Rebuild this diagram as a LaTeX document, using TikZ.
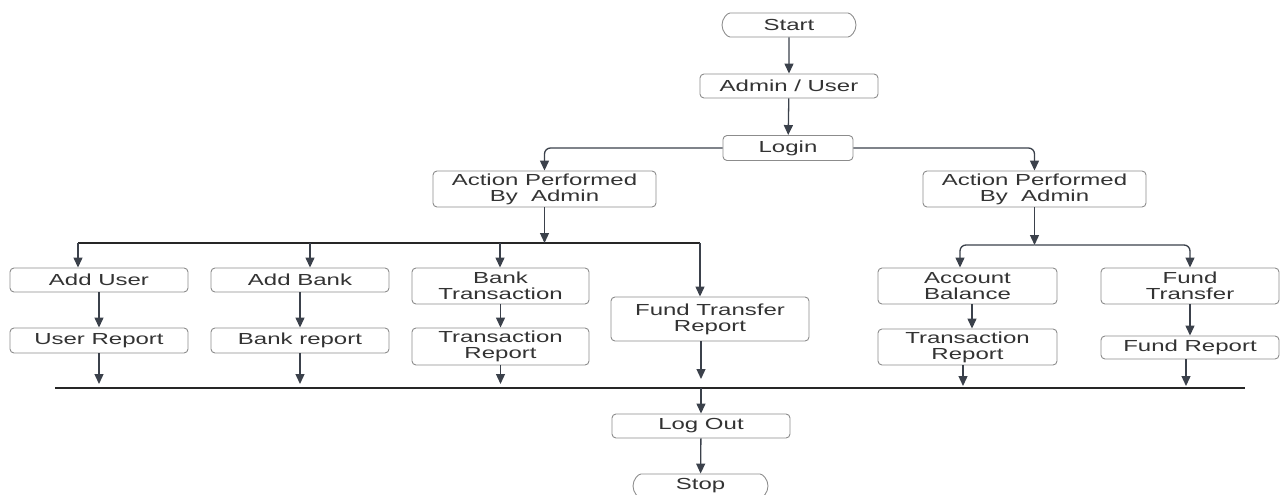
\documentclass[tikz,border=0pt]{standalone}
\usepackage{fontspec}
\setmainfont[FakeStretch=1.5]{Liberation Sans}
\usetikzlibrary{arrows.meta,shapes.misc}
\definecolor{txt}{HTML}{333333}
\definecolor{bord}{HTML}{8C8C8C}
\definecolor{arr}{HTML}{3B414B}
\begin{document}
\begin{tikzpicture}[x=1pt,y=-1pt,
  box/.style={draw=bord, line width=0.9pt, rounded corners=4pt, text=txt,
    font=\fontsize{16}{16}\selectfont, align=center, inner sep=0pt},
  term/.style={box, rounded rectangle},
  conn/.style={draw=arr, line width=1.3pt, -{Triangle[length=10pt,width=9pt]}},
  busline/.style={draw=black!85, line width=1.6pt}]
\useasboundingbox (0,0) rectangle (1280,495);
% nodes
\node[term, minimum width=134, minimum height=24] (start) at (789,25) {Start};
\node[box, minimum width=178, minimum height=24] (admin) at (789,86) {Admin / User};
\node[box, minimum width=130, minimum height=25] (login) at (788,148) {Login};
\node[box, minimum width=223, minimum height=36] (ap1) at (544.5,189) {Action Performed\\By\ \ Admin};
\node[box, minimum width=223, minimum height=36] (ap2) at (1034.5,189) {Action Performed\\By\ \ Admin};
\node[box, minimum width=178, minimum height=24] (adduser) at (99,280) {Add User};
\node[box, minimum width=178, minimum height=25] (userrep) at (99,340.5) {User Report};
\node[box, minimum width=178, minimum height=24] (addbank) at (300,280) {Add Bank};
\node[box, minimum width=178, minimum height=25] (bankrep) at (300,340.5) {Bank report};
\node[box, minimum width=177, minimum height=36] (banktr) at (500.5,286) {Bank\\Transaction};
\node[box, minimum width=177, minimum height=37] (trrep) at (500.5,346.5) {Transaction\\Report};
\node[box, minimum width=198, minimum height=44] (ftr) at (710,319) {Fund Transfer\\Report};
\node[box, minimum width=179, minimum height=36] (accbal) at (967.5,286) {Account\\Balance};
\node[box, minimum width=179, minimum height=36] (trrep2) at (967.5,347) {Transaction\\Report};
\node[box, minimum width=178, minimum height=36] (fundtr) at (1190,286) {Fund\\Transfer};
\node[box, minimum width=178, minimum height=23] (fundrep) at (1190,347.5) {Fund Report};
\node[box, minimum width=178, minimum height=24] (logout) at (701,426) {Log Out};
\node[term, minimum width=135, minimum height=24] (stop) at (700.5,486) {Stop};
% coordinates
\coordinate (b1L) at (78,243);
\coordinate (b1a) at (310,243);
\coordinate (b1b) at (500,243);
\coordinate (b1R) at (700,243);
\coordinate (b2L) at (960,245);
\coordinate (b2R) at (1190,245);
\coordinate (bL) at (55,388);
\coordinate (bR) at (1245,388);
\coordinate (bM) at (701,388);
\coordinate (x1) at (972,0);
\coordinate (x2) at (963,0);
\coordinate (x3) at (1186,0);
% top flow
\draw[conn] (start) -- (admin);
\draw[conn] (admin) -- (login);
\draw[conn, rounded corners=6pt] (login.west) -| (ap1.north);
\draw[conn, rounded corners=6pt] (login.east) -| (ap2.north);
% left branch
\draw[busline] (b1L) -- (b1R);
\draw[conn] (ap1.south) -- (ap1.south |- b1L);
\draw[conn] (b1L) -- (b1L |- adduser.north);
\draw[conn] (b1a) -- (b1a |- addbank.north);
\draw[conn] (b1b) -- (b1b |- banktr.north);
\draw[conn] (b1R) -- (b1R |- ftr.north);
\draw[conn] (adduser) -- (userrep);
\draw[conn] (addbank) -- (bankrep);
\draw[conn] (banktr) -- (trrep);
% right branch
\draw[conn] (ap2.south) -- (ap2.south |- b2L);
\draw[conn, rounded corners=6pt] (ap2.south |- b2L) -| (b2L |- accbal.north);
\draw[conn, rounded corners=6pt] (ap2.south |- b2R) -| (b2R |- fundtr.north);
\draw[conn] (accbal.south -| x1) -- (trrep2.north -| x1);
\draw[conn] (fundtr) -- (fundrep);
% bottom bus
\draw[busline] (bL) -- (bR);
\draw[conn, shorten >=4pt] (userrep) -- (userrep.south |- bL);
\draw[conn, shorten >=4pt] (bankrep) -- (bankrep.south |- bL);
\draw[conn, shorten >=4pt] (trrep) -- (trrep.south |- bL);
\draw[conn, shorten >=9pt] (ftr.south -| bM) -- (bM);
\draw[conn, shorten >=2pt] (trrep2.south -| x2) -- (bL -| x2);
\draw[conn, shorten >=2pt] (fundrep.south -| x3) -- (bL -| x3);
\draw[conn] (bM) -- (logout.north);
\draw[conn] (logout) -- (stop);
\end{tikzpicture}
\end{document}
